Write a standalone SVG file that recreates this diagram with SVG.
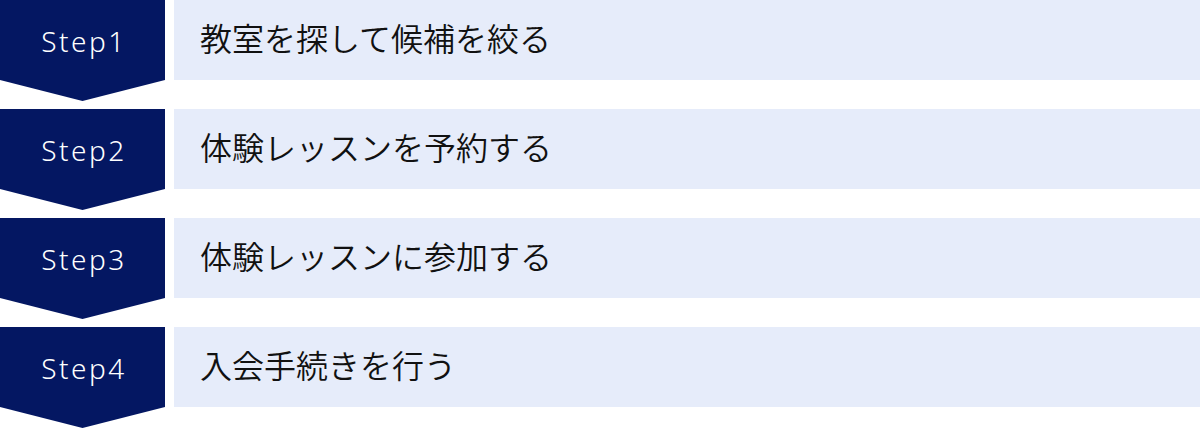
<svg xmlns="http://www.w3.org/2000/svg" width="1200" height="429" viewBox="0 0 1200 429">
<style>
.badge{fill:#041762}
.bar{fill:#e6ecfa}
.st{font-family:"Noto Sans","Open Sans",sans-serif;font-size:28px;font-weight:350;fill:#ffffff;text-anchor:middle;letter-spacing:2.5px}
.lb{font-family:"Noto Sans CJK JP","Noto Sans",sans-serif;font-size:32px;font-weight:350;fill:#111111}
</style>
<rect width="1200" height="429" fill="#ffffff"/>
<g id="connectors"></g>
<g id="step1">
<path class="badge" d="M0 0H165V80L82.5 101L0 80Z"/>
<rect class="bar" x="174" y="0" width="1026" height="80"/>
<text class="st" x="84" y="52">Step1</text>
<text class="lb" x="200" y="51">教室を探して候補を絞る</text>
</g>
<g id="step2">
<path class="badge" d="M0 109H165V189L82.5 210L0 189Z"/>
<rect class="bar" x="174" y="109" width="1026" height="80"/>
<text class="st" x="84" y="161">Step2</text>
<text class="lb" x="200" y="160">体験レッスンを予約する</text>
</g>
<g id="step3">
<path class="badge" d="M0 218H165V298L82.5 319L0 298Z"/>
<rect class="bar" x="174" y="218" width="1026" height="80"/>
<text class="st" x="84" y="270">Step3</text>
<text class="lb" x="200" y="269">体験レッスンに参加する</text>
</g>
<g id="step4">
<path class="badge" d="M0 327H165V407L82.5 428L0 407Z"/>
<rect class="bar" x="174" y="327" width="1026" height="80"/>
<text class="st" x="84" y="379">Step4</text>
<text class="lb" x="200" y="378">入会手続きを行う</text>
</g>
</svg>
